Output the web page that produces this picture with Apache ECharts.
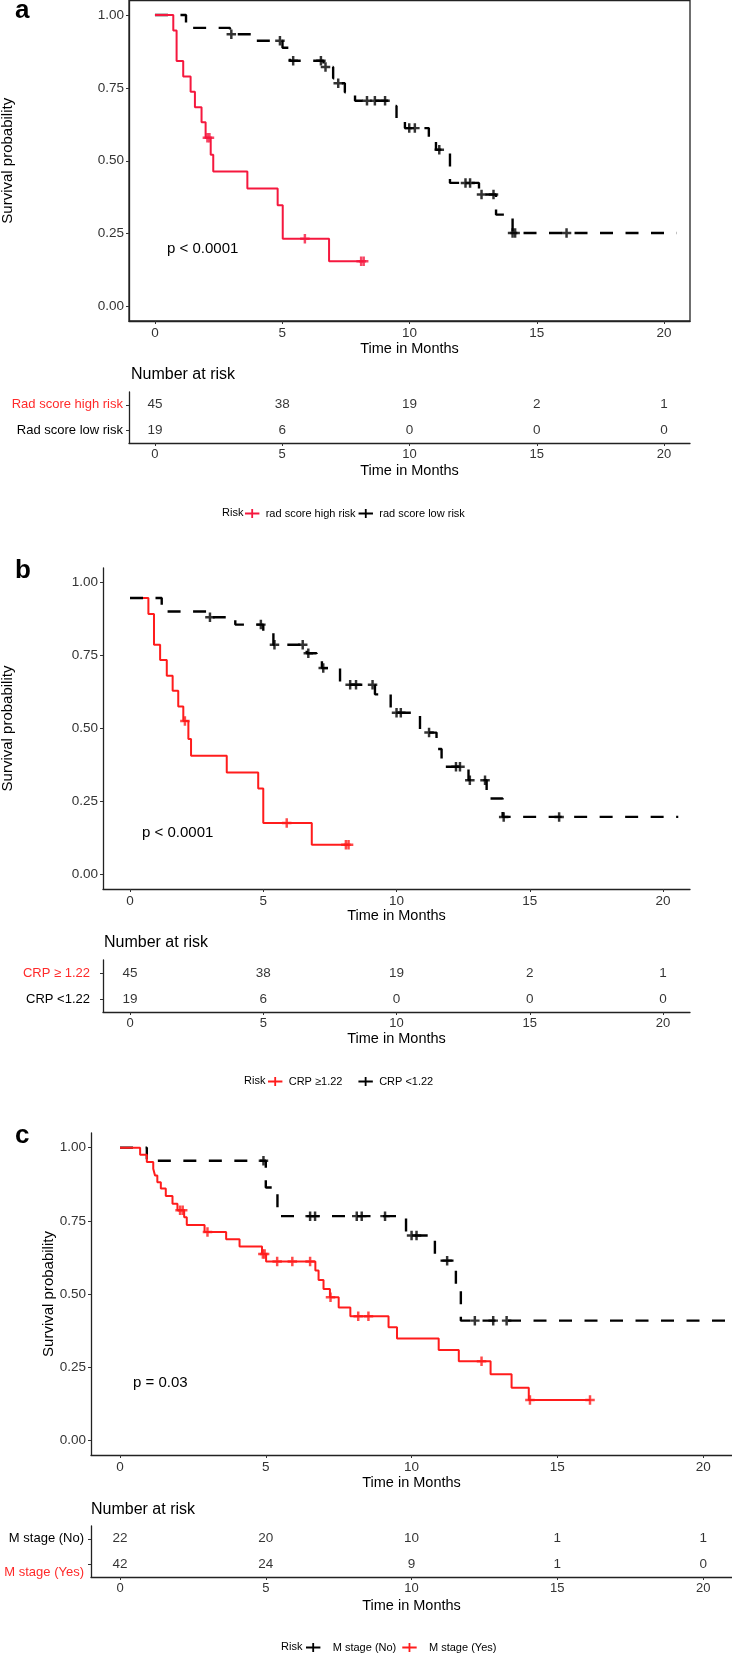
<!DOCTYPE html>
<html>
<head>
<meta charset="utf-8">
<title>Survival curves</title>
<script src="https://cdn.jsdelivr.net/npm/echarts@6/dist/echarts.min.js"></script>
<style>
  html, body { margin: 0; padding: 0; background: #fff; }
  #chart { width: 732px; height: 1653px; }
</style>
</head>
<body>
<div id="chart"></div>
<script>
// values
const timeTicks = [0, 5, 10, 15, 20];
const survTicks = [0, 0.25, 0.5, 0.75, 1];

// a - rad score
const aHighTime = [0, 0.72, 0.85, 1.11, 1.40, 1.57, 1.83, 1.99, 2.19, 2.29, 3.63, 4.82, 5.02, 6.84, 8.2];
const aHighSurv = [1, 0.947, 0.842, 0.789, 0.737, 0.684, 0.632, 0.579, 0.521, 0.463, 0.405, 0.347, 0.232, 0.155, 0.155];
const aHighCensor = [2.06, 2.14, 5.89, 8.1, 8.2];
const aLowTime = [0, 1.22, 2.95, 4.0, 5.01, 5.3, 6.62, 7.0, 7.15, 7.46, 7.86, 9.2, 9.49, 9.82, 10.76, 11.04, 11.59, 12.73, 13.4, 14.05, 20.5];
const aLowSurv = [1, 0.956, 0.934, 0.912, 0.888, 0.843, 0.822, 0.783, 0.766, 0.735, 0.706, 0.688, 0.64, 0.612, 0.572, 0.538, 0.424, 0.384, 0.315, 0.252, 0.252];
const aLowCensor = [3.0, 4.91, 5.43, 6.52, 6.7, 7.2, 8.33, 8.64, 9.04, 9.99, 10.21, 11.17, 12.2, 12.38, 12.83, 13.3, 14.05, 14.15, 16.17];
const aRiskNames = ['Rad score high risk', 'Rad score low risk'];
const aRiskHigh = [45, 38, 19, 2, 1];
const aRiskLow = [19, 6, 0, 0, 0];

// b - CRP
const bHighTime = [0, 0.69, 0.90, 1.13, 1.38, 1.60, 1.81, 2.0, 2.19, 2.29, 3.63, 4.81, 5.0, 6.82, 8.2];
const bHighSurv = [0.947, 0.892, 0.787, 0.735, 0.681, 0.629, 0.575, 0.526, 0.464, 0.407, 0.349, 0.294, 0.176, 0.102, 0.102];
const bHighCensor = [2.06, 5.88, 8.1, 8.2];
const bLowTime = [0, 1.19, 2.94, 3.95, 5.0, 5.38, 6.63, 7.0, 7.2, 7.88, 9.19, 9.78, 10.88, 11.5, 11.69, 12.7, 13.38, 13.98, 20.57];
const bLowSurv = [0.947, 0.901, 0.881, 0.856, 0.833, 0.787, 0.758, 0.733, 0.707, 0.65, 0.617, 0.554, 0.486, 0.43, 0.369, 0.323, 0.26, 0.197, 0.197];
const bLowCensor = [3.0, 4.91, 5.42, 6.48, 6.69, 7.25, 8.26, 8.48, 9.1, 10.0, 10.16, 11.22, 12.23, 12.38, 12.75, 13.32, 14.02, 16.1];
const bRiskNames = ['CRP ≥ 1.22', 'CRP <1.22'];
const bRiskHigh = [45, 38, 19, 2, 1];
const bRiskLow = [19, 6, 0, 0, 0];

// c - M stage
const cNoTime = [0, 0.92, 5.0, 5.4, 9.81, 10.8, 11.52, 11.69, 21];
const cNoSurv = [1, 0.955, 0.864, 0.766, 0.70, 0.614, 0.51, 0.409, 0.409];
const cNoCensor = [4.92, 6.52, 6.69, 8.12, 8.29, 9.09, 10.0, 10.17, 11.22, 12.17, 12.8, 13.26];
const cYesTime = [0, 0.69, 0.92, 1.14, 1.2, 1.28, 1.40, 1.57, 1.8, 1.97, 2.2, 2.29, 2.9, 3.64, 4.10, 4.87, 5.01, 6.7, 6.81, 6.98, 7.2, 7.5, 7.9, 9.21, 9.5, 10.93, 11.62, 12.71, 13.43, 14.02, 16.14];
const cYesSurv = [1, 0.976, 0.951, 0.928, 0.905, 0.882, 0.86, 0.835, 0.808, 0.786, 0.762, 0.736, 0.712, 0.687, 0.662, 0.637, 0.611, 0.58, 0.548, 0.517, 0.489, 0.454, 0.424, 0.386, 0.348, 0.309, 0.27, 0.226, 0.18, 0.138, 0.138];
const cYesCensor = [2.06, 2.15, 3.0, 4.9, 4.96, 5.39, 5.91, 6.52, 7.22, 8.17, 8.52, 12.4, 14.06, 16.12];
const cRiskNames = ['M stage (No)', 'M stage (Yes)'];
const cRiskNo = [22, 20, 10, 1, 1];
const cRiskYes = [42, 24, 9, 1, 0];

const FONT = '"Liberation Sans", Arial, Helvetica, sans-serif';
const RED_A = '#f5183e';
const RED = '#ff1c1c';
const LABEL_RED = '#ff2a2a';
const PLUS = 'path://M3.7,0H6.3V3.7H10V6.3H6.3V10H3.7V6.3H0V3.7H3.7Z';
const KEY = 'path://M0,4H7V0H9V4H16V6H9V10H7V6H0Z';

function km(t, s) { return t.map((x, i) => [x, s[i]]); }
// censor marks sit on the curve at their time
function censored(t, s, c) {
  return c.map(ct => {
    let v = s[0];
    t.forEach((x, i) => { if (x <= ct) v = s[i]; });
    return [ct, v];
  });
}

function curve(name, t, s, color, dashed, ax, z) {
  return {
    type: 'line', name: name, xAxisIndex: ax, yAxisIndex: ax,
    data: km(t, s), step: 'end', showSymbol: false, color: color, z: z, silent: true,
    lineStyle: { color: color, width: dashed ? 2.4 : 2, type: dashed ? [13, 12.5] : 'solid' }
  };
}
function marks(t, s, c, color, ax, z) {
  return {
    type: 'scatter', xAxisIndex: ax, yAxisIndex: ax, data: censored(t, s, c),
    symbol: PLUS, symbolSize: 9.5, itemStyle: { color: color }, z: z, silent: true
  };
}
function riskRow(row, counts, ax) {
  return {
    type: 'scatter', xAxisIndex: ax, yAxisIndex: ax, silent: true,
    data: timeTicks.map((x, i) => [x, row, counts[i]]),
    symbolSize: 1, itemStyle: { color: 'rgba(0,0,0,0)' },
    label: { show: true, position: 'inside', formatter: p => String(p.value[2]),
             fontSize: 13.5, color: '#000', fontFamily: FONT }
  };
}

const axisLine = { show: true, onZero: false, lineStyle: { color: '#222', width: 1.3 } };
function timeAxis(grid, min, max, nameGap, labelSize) {
  return {
    type: 'value', gridIndex: grid, min: min, max: max,
    axisLine: axisLine,
    axisTick: { show: true, customValues: timeTicks, length: 3, lineStyle: { color: '#333' } },
    axisLabel: { customValues: timeTicks, fontSize: labelSize, color: '#333', margin: 5, fontFamily: FONT },
    splitLine: { show: false },
    name: 'Time in Months', nameLocation: 'middle', nameGap: nameGap,
    nameTextStyle: { fontSize: 14.5, color: '#000', fontFamily: FONT }
  };
}
function survAxis(grid, nameGap) {
  return {
    type: 'value', gridIndex: grid, min: -0.05, max: 1.05,
    axisLine: axisLine,
    axisTick: { show: true, customValues: survTicks, length: 3, lineStyle: { color: '#333' } },
    axisLabel: { customValues: survTicks, fontSize: 13.5, color: '#333', margin: 5, fontFamily: FONT,
                 formatter: v => v.toFixed(2) },
    splitLine: { show: false },
    name: 'Survival probability', nameLocation: 'middle', nameGap: nameGap, nameMoveOverlap: false,
    nameTextStyle: { fontSize: 15, color: '#000', fontFamily: FONT }
  };
}
function rowAxis(grid, names, redName, margin, rich) {
  return {
    type: 'category', gridIndex: grid, data: names, inverse: true,
    axisLine: axisLine,
    axisTick: { show: true, alignWithLabel: true, length: 3, lineStyle: { color: '#333' } },
    axisLabel: {
      fontSize: 13, margin: margin, fontFamily: FONT,
      color: v => (v === redName ? LABEL_RED : '#000'),
      formatter: rich ? (v => (v === redName ? '{low|' + v + '}' : v)) : undefined,
      rich: rich || {}
    },
    splitLine: { show: false }
  };
}

function txt(s, x, y, size, extra) {
  return {
    type: 'text', x: x, y: y, silent: true,
    style: Object.assign({ text: s, fontSize: size, fontFamily: FONT, fill: '#000',
                           textAlign: 'left', textVerticalAlign: 'middle',
                           align: 'left', verticalAlign: 'middle' }, extra || {})
  };
}
function legend(left, centerY, names, itemGap, pad) {
  return {
    left: left, top: centerY - 5, padding: 0, data: names, icon: KEY, itemWidth: 17, itemHeight: 9,
    itemGap: itemGap, selectedMode: false,
    itemStyle: { borderWidth: 0 }, lineStyle: { width: 0 },
    textStyle: { fontSize: 11, color: '#000', fontFamily: FONT, padding: [0, 0, 0, pad] }
  };
}
function grid(left, top, width, height, extra) {
  return Object.assign({ left: left, top: top, width: width, height: height,
                         outerBoundsMode: 'none', containLabel: false }, extra || {});
}

const chart = echarts.init(document.getElementById('chart'), null, { renderer: 'canvas' });
chart.setOption({
  animation: false,
  backgroundColor: '#fff',
  textStyle: { fontFamily: FONT },
  grid: [
    grid(129, 0.5, 561, 320.5, { show: true, borderColor: '#222', borderWidth: 1.3 }),
    grid(129, 392, 561, 51),
    grid(103, 568, 587, 321),
    grid(103, 960, 587, 52),
    grid(91, 1133, 641, 322),
    grid(91, 1526, 641, 51)
  ],
  xAxis: [
    timeAxis(0, -1.02, 21.02, 20, 13.5),
    timeAxis(1, -1.02, 21.02, 20, 13),
    timeAxis(2, -1.013, 21.01, 19, 13.5),
    timeAxis(3, -1.013, 21.01, 19, 13),
    timeAxis(4, -0.995, 20.99, 20, 13.5),
    timeAxis(5, -0.995, 20.99, 21, 13)
  ],
  yAxis: [
    survAxis(0, 113.5),
    rowAxis(1, aRiskNames, aRiskNames[0], 6),
    survAxis(2, 87.5),
    rowAxis(3, bRiskNames, bRiskNames[0], 13),
    survAxis(4, 34.5),
    rowAxis(5, cRiskNames, cRiskNames[1], 7,
            { low: { color: LABEL_RED, fontSize: 13, fontFamily: FONT, padding: [16, 0, 0, 0] } })
  ],
  legend: [
    legend(245, 513, ['rad score high risk', 'rad score low risk'], 3, 0),
    legend(268, 1081, ['CRP ≥1.22', 'CRP <1.22'], 16, 0),
    legend(306, 1647, ['M stage (No)', 'M stage (Yes)'], 6, 6)
  ],
  series: [
    curve('rad score low risk', aLowTime, aLowSurv, '#000', true, 0, 2),
    curve('rad score high risk', aHighTime, aHighSurv, RED_A, false, 0, 3),
    marks(aLowTime, aLowSurv, aLowCensor, '#000', 0, 4),
    marks(aHighTime, aHighSurv, aHighCensor, RED_A, 0, 5),
    riskRow(aRiskNames[0], aRiskHigh, 1),
    riskRow(aRiskNames[1], aRiskLow, 1),

    curve('CRP ≥1.22', bHighTime, bHighSurv, RED, false, 2, 2),
    curve('CRP <1.22', bLowTime, bLowSurv, '#000', true, 2, 3),
    marks(bHighTime, bHighSurv, bHighCensor, RED, 2, 4),
    marks(bLowTime, bLowSurv, bLowCensor, '#000', 2, 5),
    riskRow(bRiskNames[0], bRiskHigh, 3),
    riskRow(bRiskNames[1], bRiskLow, 3),

    curve('M stage (No)', cNoTime, cNoSurv, '#000', true, 4, 2),
    curve('M stage (Yes)', cYesTime, cYesSurv, RED, false, 4, 3),
    marks(cNoTime, cNoSurv, cNoCensor, '#000', 4, 4),
    marks(cYesTime, cYesSurv, cYesCensor, RED, 4, 5),
    riskRow(cRiskNames[0], cRiskNo, 5),
    riskRow(cRiskNames[1], cRiskYes, 5)
  ],
  graphic: [
    txt('a', 15, 11, 26, { fontWeight: 'bold' }),
    txt('b', 15, 571, 26, { fontWeight: 'bold' }),
    txt('c', 15, 1136, 26, { fontWeight: 'bold' }),
    txt('p < 0.0001', 167, 249, 15),
    txt('p < 0.0001', 142, 833, 15),
    txt('p = 0.03', 133, 1383, 15),
    txt('Number at risk', 131, 375, 16),
    txt('Number at risk', 104, 943, 16),
    txt('Number at risk', 91, 1510, 16),
    txt('Risk', 222, 513, 11),
    txt('Risk', 244, 1081, 11),
    txt('Risk', 281, 1647, 11)
  ]
});
</script>
</body>
</html>
